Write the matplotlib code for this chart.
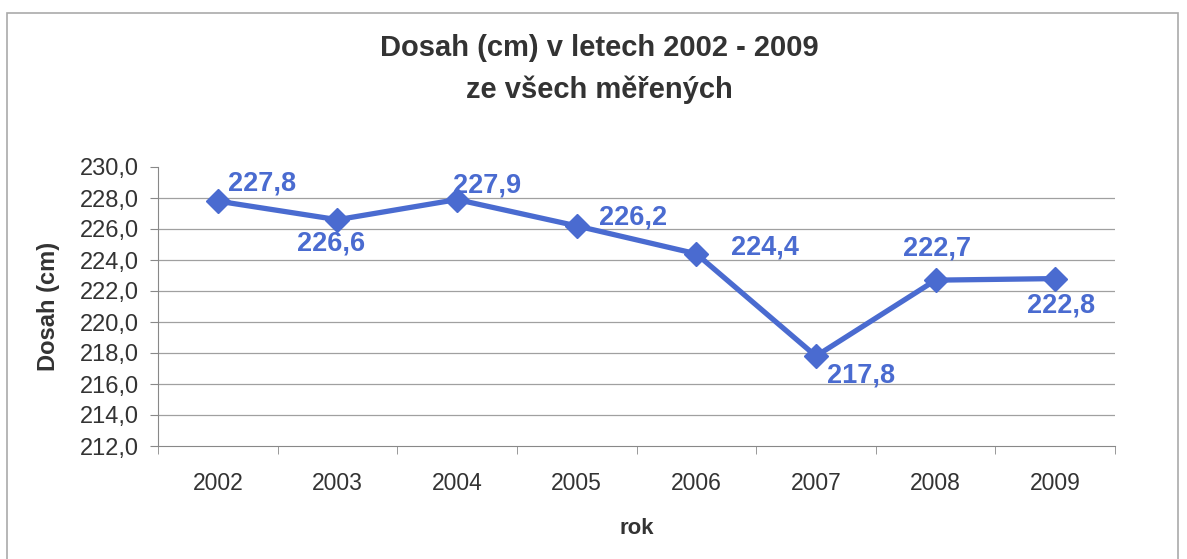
import numpy as np
import matplotlib
matplotlib.use('Agg')
import matplotlib.pyplot as plt
from matplotlib.patches import Rectangle
import matplotlib.ticker as ticker

roky = ['2002', '2003', '2004', '2005', '2006', '2007', '2008', '2009']
dosah = [227.8, 226.6, 227.9, 226.2, 224.4, 217.8, 222.7, 222.8]
# posun popisku (px) a zarovnani
posuny = [(10, 18, 'left'), (-6, -24, 'center'), (-4, 14, 'left'), (22, 8, 'left'),
          (35, 6, 'left'), (11, -19, 'left'), (2, 32, 'center'), (6, -27, 'center')]

plt.rcParams['font.family'] = ['Liberation Sans', 'DejaVu Sans']
modra = '#4a6bd0'
seda = '#333333'

fig = plt.figure(figsize=(11.87, 5.59), dpi=100)
fig.patches.append(Rectangle((7 / 1187, -0.05), 1171 / 1187, 1 - 13 / 559 + 0.05,
                             transform=fig.transFigure, fill=False,
                             edgecolor='#aaaaaa', linewidth=1.2))
ax = fig.add_axes([158 / 1187, 1 - 446 / 559, 957 / 1187, 279 / 559])

x = np.arange(len(roky))
ax.plot(x, dosah, color=modra, lw=3.8, marker='D', markersize=12, zorder=3)

for xi, v, (dx, dy, ha) in zip(x, dosah, posuny):
    ax.annotate(f'{v:.1f}'.replace('.', ','), (xi, v), xytext=(dx, dy),
                textcoords='offset pixels', ha=ha, va='center',
                fontsize=19.5, fontweight='bold', color=modra)

ax.set_xlim(-0.5, len(roky) - 0.5)
ax.set_ylim(212, 230)
ax.yaxis.set_major_locator(ticker.MultipleLocator(2))
ax.yaxis.set_major_formatter(ticker.FuncFormatter(lambda v, p: f'{v:.1f}'.replace('.', ',')))
ax.set_xticks(x)
ax.set_xticklabels(roky)
ax.set_xticks(np.arange(-0.5, len(roky)), minor=True)
ax.tick_params(axis='x', which='major', length=0, pad=19, labelsize=16.5, colors=seda)
ax.tick_params(axis='x', which='minor', length=6, color='#888888')
ax.tick_params(axis='y', length=6, color='#888888', labelsize=17, colors=seda, pad=8)

for v in np.arange(214, 230, 2):
    ax.axhline(v, color='#a0a0a0', lw=0.9, zorder=1)

for s in ['top', 'right']:
    ax.spines[s].set_visible(False)
for s in ['left', 'bottom']:
    ax.spines[s].set_color('#888888')

ax.set_ylabel('Dosah (cm)', fontsize=17, fontweight='bold', color=seda, labelpad=14)
ax.set_xlabel('rok', fontsize=16, fontweight='bold', color=seda, labelpad=16)

fig.text(0.505, 1 - 48 / 559, 'Dosah (cm) v letech 2002 - 2009', ha='center', va='center',
         fontsize=21, fontweight='bold', color=seda)
fig.text(0.505, 1 - 90 / 559, 'ze všech měřených', ha='center', va='center',
         fontsize=21, fontweight='bold', color=seda)

fig.savefig('out.png', dpi=100)
